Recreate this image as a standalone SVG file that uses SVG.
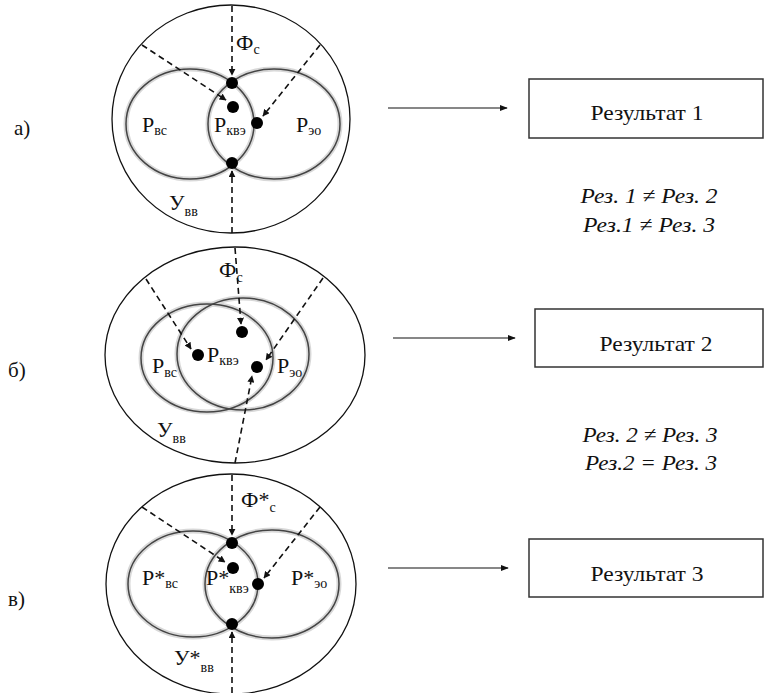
<svg xmlns="http://www.w3.org/2000/svg" width="765" height="693" viewBox="0 0 765 693">
<defs>
<marker id="ah" viewBox="0 0 10 10" refX="9" refY="5" markerWidth="7" markerHeight="7" markerUnits="userSpaceOnUse" orient="auto"><path d="M0,0 L10,5 L0,10 z" fill="#111"/></marker>
<marker id="ah2" viewBox="0 0 10 10" refX="9" refY="5" markerWidth="8" markerHeight="8" markerUnits="userSpaceOnUse" orient="auto"><path d="M0,1 L10,5 L0,9 z" fill="#111"/></marker>
</defs>

<g id="tags" font-family="Times New Roman, Liberation Serif, serif" font-size="21" fill="#111">
<g id="tag-a"><text x="14" y="135">а)</text></g>
<g id="tag-b"><text x="8" y="377">б)</text></g>
<g id="tag-c"><text x="8" y="606">в)</text></g>
</g>

<g id="diagram-a">
<ellipse cx="231" cy="119" rx="119" ry="114" fill="none" stroke="#111" stroke-width="1.3"/>
<g fill="none" stroke="#d8d8d8" stroke-width="5">
<ellipse cx="190" cy="124" rx="64" ry="55"/>
<ellipse cx="274" cy="124" rx="66" ry="55"/>
</g>
<g fill="none" stroke="#444" stroke-width="1.5">
<ellipse cx="190" cy="124" rx="64" ry="55"/>
<ellipse cx="274" cy="124" rx="66" ry="55"/>
</g>
<g fill="#000">
<circle cx="232" cy="83" r="6"/>
<circle cx="233" cy="107" r="6"/>
<circle cx="257" cy="123" r="6"/>
<circle cx="232" cy="163" r="6"/>
</g>
<g font-family="Times New Roman, Liberation Serif, serif" font-size="22" fill="#111">
<text x="236" y="50">Ф<tspan dy="4" font-size="14">с</tspan></text>
<text x="142" y="132">Р<tspan dy="3" font-size="14">вс</tspan></text>
<text x="214" y="132">Р<tspan dy="3" font-size="14">квэ</tspan></text>
<text x="296" y="132">Р<tspan dy="3" font-size="14">эо</tspan></text>
<text x="169" y="210">У<tspan dy="6" font-size="14">вв</tspan></text>
</g>
</g>

<g id="diagram-b">
<ellipse cx="235" cy="355" rx="130" ry="108" fill="none" stroke="#111" stroke-width="1.3"/>
<g fill="none" stroke="#d8d8d8" stroke-width="5">
<ellipse cx="207" cy="358" rx="66" ry="54"/>
<ellipse cx="243" cy="354" rx="66" ry="56"/>
</g>
<g fill="none" stroke="#444" stroke-width="1.5">
<ellipse cx="207" cy="358" rx="66" ry="54"/>
<ellipse cx="243" cy="354" rx="66" ry="56"/>
</g>
<g fill="#000">
<circle cx="242" cy="332" r="6"/>
<circle cx="198" cy="355" r="6"/>
<circle cx="257" cy="367" r="6"/>
</g>
<g font-family="Times New Roman, Liberation Serif, serif" font-size="22" fill="#111">
<text x="219" y="277">Ф<tspan dy="5" font-size="14">с</tspan></text>
<text x="152" y="373">Р<tspan dy="4" font-size="14">вс</tspan></text>
<text x="207" y="362">Р<tspan dy="3" font-size="14">квэ</tspan></text>
<text x="277" y="373">Р<tspan dy="4" font-size="14">эо</tspan></text>
<text x="157" y="437">У<tspan dy="6" font-size="14">вв</tspan></text>
</g>
</g>

<g id="diagram-c">
<ellipse cx="231" cy="584" rx="125" ry="110" fill="none" stroke="#111" stroke-width="1.3"/>
<g fill="none" stroke="#d8d8d8" stroke-width="5">
<ellipse cx="193" cy="584" rx="65" ry="53"/>
<ellipse cx="272" cy="584" rx="67" ry="54"/>
</g>
<g fill="none" stroke="#444" stroke-width="1.5">
<ellipse cx="193" cy="584" rx="65" ry="53"/>
<ellipse cx="272" cy="584" rx="67" ry="54"/>
</g>
<g fill="#000">
<circle cx="232" cy="543" r="6"/>
<circle cx="233" cy="568" r="6"/>
<circle cx="258" cy="584" r="6"/>
<circle cx="232" cy="624" r="6"/>
</g>
<g font-family="Times New Roman, Liberation Serif, serif" font-size="22" fill="#111">
<text x="241" y="507">Ф*<tspan dy="5" font-size="14">с</tspan></text>
<text x="142" y="585">Р*<tspan dy="3" font-size="14">вс</tspan></text>
<text x="206" y="585">Р*<tspan dy="8" font-size="14">квэ</tspan></text>
<text x="291" y="585">Р*<tspan dy="3" font-size="14">эо</tspan></text>
<text x="174" y="665">У*<tspan dy="7" font-size="14">вв</tspan></text>
</g>
</g>

<g id="connectors">
<g fill="none" stroke="#111" stroke-width="1.6" stroke-dasharray="6 4" marker-end="url(#ah)">
<line x1="232" y1="6" x2="232" y2="75"/>
<line x1="142" y1="45" x2="226" y2="100"/>
<line x1="320" y1="45" x2="263" y2="116"/>
<line x1="232" y1="233" x2="232" y2="171"/>
<line x1="235" y1="248" x2="241" y2="324"/>
<line x1="146" y1="279" x2="191" y2="349"/>
<line x1="323" y1="278" x2="266" y2="360"/>
<line x1="235" y1="463" x2="252" y2="376"/>
<line x1="232" y1="475" x2="232" y2="535"/>
<line x1="142" y1="507" x2="225" y2="562"/>
<line x1="320" y1="507" x2="264" y2="578"/>
<line x1="232" y1="693" x2="232" y2="632"/>
</g>
<g stroke="#111" stroke-width="1.2" marker-end="url(#ah2)">
<line x1="388" y1="108" x2="507" y2="108"/>
<line x1="393" y1="338" x2="515" y2="338"/>
<line x1="388" y1="568" x2="508" y2="568"/>
</g>
</g>

<g font-family="Times New Roman, Liberation Serif, serif" font-size="22" text-anchor="middle" fill="#111">
<g id="result-1"><rect x="529" y="79" width="234" height="59" fill="#fff" stroke="#333" stroke-width="1.5"/><text x="647" y="120" textLength="113" lengthAdjust="spacingAndGlyphs">Результат 1</text></g>
<g id="result-2"><rect x="535" y="309" width="228" height="58" fill="#fff" stroke="#333" stroke-width="1.5"/><text x="656" y="351" textLength="113" lengthAdjust="spacingAndGlyphs">Результат 2</text></g>
<g id="result-3"><rect x="529" y="539" width="234" height="58" fill="#fff" stroke="#333" stroke-width="1.5"/><text x="647" y="581" textLength="113" lengthAdjust="spacingAndGlyphs">Результат 3</text></g>
</g>

<g font-family="Times New Roman, Liberation Serif, serif" font-size="22" font-style="italic" text-anchor="middle" fill="#111">
<g id="note-1">
<text x="649" y="203" textLength="137" lengthAdjust="spacingAndGlyphs">Рез. 1 ≠ Рез. 2</text>
<text x="649" y="232" textLength="132" lengthAdjust="spacingAndGlyphs">Рез.1 ≠ Рез. 3</text>
</g>
<g id="note-2">
<text x="650" y="442" textLength="135" lengthAdjust="spacingAndGlyphs">Рез. 2 ≠ Рез. 3</text>
<text x="651" y="470" textLength="132" lengthAdjust="spacingAndGlyphs">Рез.2 = Рез. 3</text>
</g>
</g>
</svg>
